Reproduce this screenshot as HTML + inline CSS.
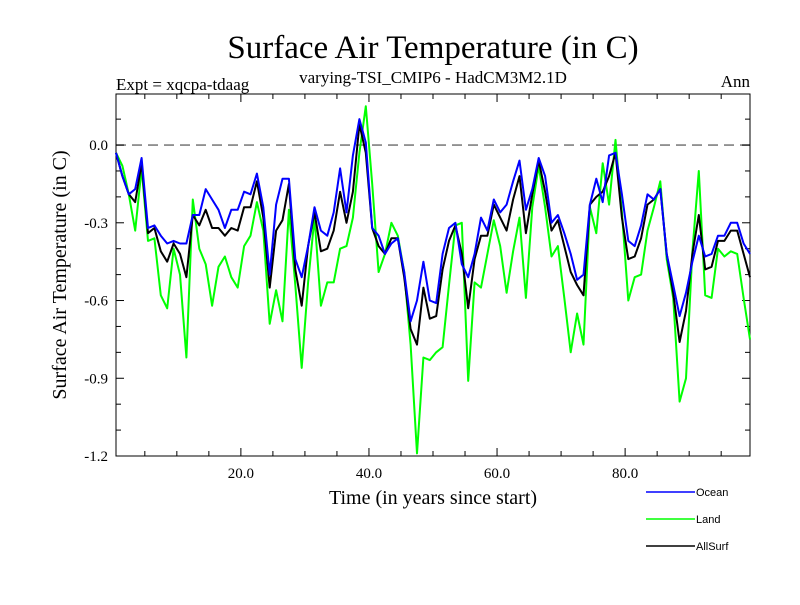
<!DOCTYPE html>
<html><head><meta charset="utf-8"><style>
body{margin:0;background:#fff}
svg text{font-family:"Liberation Serif",serif;fill:#000}
</style></head><body>
<svg id="chart" width="800" height="600" xmlns="http://www.w3.org/2000/svg">
<rect width="800" height="600" fill="#fff"/>
<text x="433" y="58" font-size="33" text-anchor="middle">Surface Air Temperature (in C)</text>
<text x="116" y="90" font-size="17">Expt = xqcpa-tdaag</text>
<text x="433" y="83" font-size="17" text-anchor="middle">varying-TSI_CMIP6 - HadCM3M2.1D</text>
<text x="750" y="87" font-size="17" text-anchor="end">Ann</text>
<text transform="translate(66,275) rotate(-90)" font-size="20" text-anchor="middle">Surface Air Temperature (in C)</text>
<text x="433" y="504" font-size="20" text-anchor="middle">Time (in years since start)</text>
<g id="axes"></g>
<g id="series"></g>
<g id="legend"></g>
</svg>
<script>
const ocean=[-0.03,-0.12,-0.19,-0.17,-0.05,-0.32,-0.31,-0.35,-0.38,-0.37,-0.38,-0.38,-0.27,-0.27,-0.17,-0.21,-0.25,-0.32,-0.25,-0.25,-0.18,-0.19,-0.11,-0.24,-0.50,-0.23,-0.13,-0.13,-0.44,-0.51,-0.39,-0.24,-0.33,-0.35,-0.26,-0.09,-0.26,-0.04,0.10,0.01,-0.32,-0.35,-0.42,-0.38,-0.36,-0.49,-0.68,-0.60,-0.45,-0.60,-0.61,-0.42,-0.32,-0.30,-0.46,-0.51,-0.42,-0.28,-0.33,-0.21,-0.26,-0.23,-0.14,-0.06,-0.25,-0.17,-0.05,-0.12,-0.30,-0.27,-0.34,-0.42,-0.52,-0.50,-0.23,-0.13,-0.22,-0.04,-0.03,-0.19,-0.37,-0.39,-0.31,-0.19,-0.21,-0.17,-0.42,-0.54,-0.66,-0.57,-0.45,-0.35,-0.43,-0.42,-0.35,-0.35,-0.30,-0.30,-0.38,-0.42];
const land=[-0.03,-0.08,-0.19,-0.33,-0.09,-0.37,-0.36,-0.58,-0.63,-0.40,-0.50,-0.82,-0.21,-0.40,-0.46,-0.62,-0.47,-0.43,-0.51,-0.55,-0.39,-0.35,-0.22,-0.33,-0.69,-0.56,-0.68,-0.25,-0.54,-0.86,-0.53,-0.28,-0.62,-0.53,-0.53,-0.40,-0.39,-0.28,-0.03,0.15,-0.15,-0.49,-0.42,-0.30,-0.35,-0.49,-0.77,-1.19,-0.82,-0.83,-0.80,-0.78,-0.54,-0.31,-0.30,-0.91,-0.53,-0.55,-0.42,-0.29,-0.39,-0.57,-0.41,-0.28,-0.59,-0.24,-0.08,-0.24,-0.43,-0.39,-0.59,-0.80,-0.65,-0.77,-0.24,-0.34,-0.07,-0.23,0.02,-0.26,-0.60,-0.51,-0.50,-0.33,-0.24,-0.14,-0.44,-0.59,-0.99,-0.90,-0.41,-0.10,-0.58,-0.59,-0.40,-0.43,-0.41,-0.42,-0.59,-0.75];
const allsurf=[-0.03,-0.12,-0.19,-0.22,-0.07,-0.34,-0.32,-0.41,-0.45,-0.38,-0.42,-0.51,-0.27,-0.31,-0.25,-0.32,-0.32,-0.35,-0.32,-0.33,-0.24,-0.24,-0.14,-0.28,-0.55,-0.33,-0.29,-0.15,-0.48,-0.62,-0.39,-0.26,-0.41,-0.40,-0.33,-0.18,-0.30,-0.18,0.08,-0.03,-0.32,-0.39,-0.42,-0.36,-0.36,-0.51,-0.71,-0.77,-0.55,-0.67,-0.66,-0.48,-0.37,-0.31,-0.42,-0.63,-0.44,-0.35,-0.35,-0.23,-0.28,-0.33,-0.21,-0.12,-0.34,-0.19,-0.06,-0.18,-0.33,-0.29,-0.39,-0.49,-0.54,-0.58,-0.23,-0.20,-0.18,-0.12,-0.03,-0.28,-0.44,-0.43,-0.36,-0.23,-0.21,-0.17,-0.42,-0.57,-0.76,-0.64,-0.42,-0.27,-0.48,-0.47,-0.37,-0.37,-0.33,-0.33,-0.42,-0.51];
const xTickLabels=["20.0","40.0","60.0","80.0"];
const xTickValues=[20,40,60,80];
const yTickLabels=["0.0","-0.3","-0.6","-0.9","-1.2"];
const yTickValues=[0,-0.3,-0.6,-0.9,-1.2];
const seriesNames=["Ocean","Land","AllSurf"];

const NS="http://www.w3.org/2000/svg";
const L=116,R=750,T=94,B=456;
const XMIN=0.5,XMAX=99.5,YMIN=-1.2,YMAX=0.197;
const sx=t=>L+(t-XMIN)/(XMAX-XMIN)*(R-L);
const sy=v=>B-(v-YMIN)/(YMAX-YMIN)*(B-T);
function mk(tag,attrs,parent){const e=document.createElementNS(NS,tag);for(const k in attrs)e.setAttribute(k,attrs[k]);parent.appendChild(e);return e;}
const axes=document.getElementById('axes');
// zero line
const z=mk('line',{x1:L,x2:R,y1:sy(0),y2:sy(0),stroke:'#808080','stroke-width':1.6,'stroke-dasharray':'10,6'},axes);


const fr=mk('rect',{x:L,y:T,width:R-L,height:B-T,fill:'none',stroke:'#000','stroke-width':1},axes);


for(let t=5;t<100;t+=5){
  const major=t%20===0, len=major?8:5;
  mk('line',{x1:sx(t),x2:sx(t),y1:B,y2:B-len,stroke:'#000'},axes);
  mk('line',{x1:sx(t),x2:sx(t),y1:T,y2:T+len,stroke:'#000'},axes);
}
for(let k=-12;k<=1;k++){
  const v=k/10, major=k%3===0, len=major?8:5;
  mk('line',{x1:L,x2:L+len,y1:sy(v),y2:sy(v),stroke:'#000'},axes);
  mk('line',{x1:R,x2:R-len,y1:sy(v),y2:sy(v),stroke:'#000'},axes);
}
xTickValues.forEach((t,i)=>{
  const e=mk('text',{x:sx(t),y:B+22,'font-size':15,'text-anchor':'middle'},axes);
  e.textContent=xTickLabels[i];
  
  
});
yTickValues.forEach((v,i)=>{
  const e=mk('text',{x:L-8,y:sy(v)+5,'font-size':15,'text-anchor':'end'},axes);
  e.textContent=yTickLabels[i];
  
  
});
const sg=document.getElementById('series');
const data=[ocean,land,allsurf], colors=['#0000ff','#00ff00','#000000'], names=['ocean-line','land-line','allsurf-line'];
[1,2,0].forEach(s=>{
  const pts=data[s].map((v,i)=>sx(XMIN+i).toFixed(1)+','+sy(v).toFixed(1)).join(' ');
  const p=mk('polyline',{points:pts,fill:'none',stroke:colors[s],'stroke-width':2,'stroke-linejoin':'round'},sg);
  
  
});
const lg=document.getElementById('legend');
seriesNames.forEach((n,i)=>{
  const y=492+i*27;
  const g=mk('g',{},lg);
  
  
  mk('line',{x1:646,x2:695,y1:y,y2:y,stroke:colors[i],'stroke-width':1.5},g);
  const t=mk('text',{x:696,y:y+4,'font-size':11,style:'font-family:"Liberation Sans",sans-serif'},g);
  t.textContent=n;
});
</script>
</body></html>
